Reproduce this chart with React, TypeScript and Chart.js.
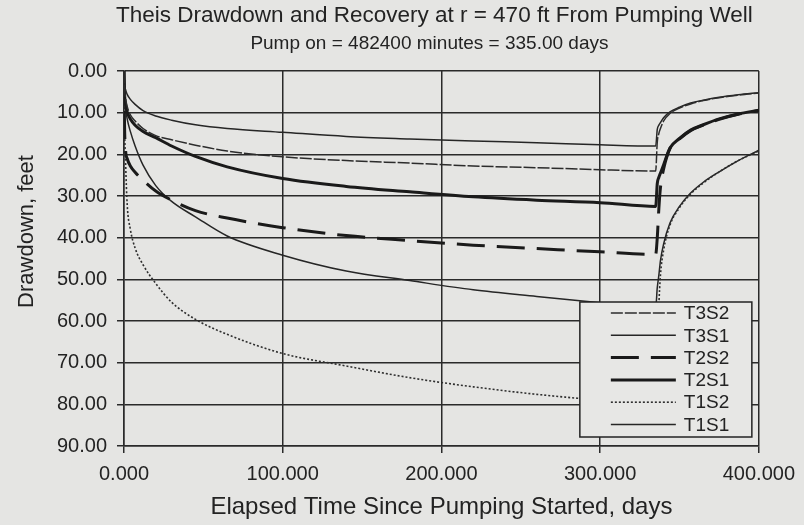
import React, { useEffect, useRef } from "react";
import { Chart, registerables } from "chart.js";

Chart.register(...registerables);

const TITLE = "Theis Drawdown and Recovery at r = 470 ft From Pumping Well";
const SUBTITLE = "Pump on = 482400 minutes = 335.00 days";
const X_TITLE = "Elapsed Time Since Pumping Started, days";
const Y_TITLE = "Drawdown, feet";

// elapsed time, days
const DAYS = [0, 0.3, 1, 2, 4, 7, 12, 20, 30, 45, 65, 100, 140, 180, 220, 260, 300, 335, 336, 337, 338, 340, 344, 350, 357, 365, 375, 387, 400];

// drawdown, feet
const T3S2 = [0, 4, 6.5, 8.5, 10.5, 12, 13.8, 15.5, 16.5, 17.8, 19.2, 20.6, 21.5, 22.1, 22.8, 23.2, 23.7, 24, 17, 15, 13.8, 12, 10.2, 8.9, 7.9, 7.1, 6.4, 5.8, 5.3];
const T3S1 = [0, 3, 4.5, 5.6, 6.8, 8, 9.5, 10.8, 11.8, 12.9, 13.8, 14.7, 15.7, 16.3, 16.8, 17.2, 17.7, 18, 14, 13, 12.4, 11.2, 9.8, 8.7, 7.7, 7, 6.3, 5.7, 5.2];
const T2S2 = [0, 12, 19, 21, 22.8, 24.3, 26.2, 28.8, 31, 33.5, 35.3, 37.6, 39.5, 40.7, 41.8, 42.6, 43.4, 44, 40, 33, 28, 23.5, 18.6, 16.3, 14.3, 13, 11.6, 10.4, 9.5];
const T2S1 = [0, 5, 8, 9.8, 11.5, 13, 14.5, 16, 18, 20.5, 23, 25.8, 27.7, 29, 30.2, 31, 31.6, 32.5, 27, 25.5, 24.5, 22.5, 18.5, 16.2, 14.2, 12.9, 11.5, 10.3, 9.4];
const T1S2 = [0, 12, 22, 32, 38, 42.5, 46.5, 51, 55.5, 59.6, 63.2, 67.8, 70.8, 73.6, 75.8, 77.6, 79, 80, 65, 56, 49, 43, 37, 32.8, 29.5, 26.9, 24.2, 21.5, 19.2];
const T1S1 = [0, 5, 9, 11.5, 14.5, 18, 22.6, 27.5, 31.3, 35, 39.6, 44.2, 48, 50.3, 52.5, 54.1, 55.6, 56.8, 52, 49, 45.5, 41.5, 36.5, 32.5, 29.3, 26.7, 24.2, 21.5, 19];

const SERIES_NAMES = ["T3S2", "T3S1", "T2S2", "T2S1", "T1S2", "T1S1"];
const SERIES_VALUES = [T3S2, T3S1, T2S2, T2S1, T1S2, T1S1];

const X_MIN = 0;
const X_MAX = 400;
const X_STEP = 100;
const Y_MIN = 0;
const Y_MAX = 90;
const Y_STEP = 10;

const FONT = "'Liberation Sans', Arial, sans-serif";
const BG = "#e5e5e3";
const INK = "#232323";

const STYLES = [
  { borderWidth: 1.5, borderDash: [12, 2], borderColor: "#2c2c2c" },
  { borderWidth: 1.5, borderDash: [], borderColor: "#262626" },
  { borderWidth: 3, borderDash: [28, 12], borderColor: "#1a1a1a" },
  { borderWidth: 3, borderDash: [], borderColor: "#1a1a1a" },
  { borderWidth: 1.6, borderDash: [2, 2], borderColor: "#2e2e2e" },
  { borderWidth: 1.5, borderDash: [], borderColor: "#262626" },
];

const bgPlugin = {
  id: "bgFill",
  beforeDraw(chart: any) {
    const ctx = chart.ctx;
    ctx.save();
    ctx.fillStyle = BG;
    ctx.fillRect(0, 0, chart.width, chart.height);
    ctx.restore();
  },
};

const textPlugin = {
  id: "textBlocks",
  afterDraw(chart: any) {
    const ctx = chart.ctx;
    const a = chart.chartArea;
    const cx = a.left + (a.right - a.left) / 2;
    ctx.save();
    ctx.fillStyle = INK;
    ctx.textAlign = "center";
    ctx.textBaseline = "alphabetic";
    ctx.font = `22.5px ${FONT}`;
    ctx.fillText(TITLE, cx - 7, 22);
    ctx.font = `19px ${FONT}`;
    ctx.fillText(SUBTITLE, cx - 12, 49);
    ctx.translate(27, a.top + (a.bottom - a.top) / 2 - 27);
    ctx.rotate(-Math.PI / 2);
    ctx.textBaseline = "middle";
    ctx.font = `22px ${FONT}`;
    ctx.fillText(Y_TITLE, 0, 0);
    ctx.restore();
  },
};

const legendPlugin = {
  id: "boxLegend",
  afterDatasetsDraw(chart: any) {
    const ctx = chart.ctx;
    const a = chart.chartArea;
    const w = 172;
    const h = 135;
    const x0 = a.right - 7 - w;
    const y0 = a.bottom - 9 - h;
    ctx.save();
    ctx.fillStyle = "#e7e7e5";
    ctx.fillRect(x0, y0, w, h);
    ctx.strokeStyle = INK;
    ctx.lineWidth = 1.5;
    ctx.strokeRect(x0, y0, w, h);
    ctx.font = `19px ${FONT}`;
    ctx.textBaseline = "middle";
    ctx.textAlign = "left";
    chart.data.datasets.forEach((ds: any, i: number) => {
      const y = y0 + 11 + i * 22.3;
      ctx.beginPath();
      ctx.setLineDash(ds.borderDash || []);
      ctx.lineWidth = ds.borderWidth;
      ctx.strokeStyle = ds.borderColor;
      ctx.moveTo(x0 + 31, y);
      ctx.lineTo(x0 + 96, y);
      ctx.stroke();
      ctx.setLineDash([]);
      ctx.fillStyle = INK;
      ctx.fillText(ds.label, x0 + 104, y + 1);
    });
    ctx.restore();
  },
};

export default function App() {
  const ref = useRef<HTMLCanvasElement | null>(null);

  useEffect(() => {
    document.body.style.margin = "0";
    const canvas = ref.current;
    if (!canvas) return;
    const datasets = SERIES_NAMES.map((name, i) => ({
      label: name,
      data: DAYS.map((d, j) => ({ x: d, y: SERIES_VALUES[i][j] })),
      ...STYLES[i],
      pointRadius: 0,
      fill: false,
      tension: 0,
      cubicInterpolationMode: "monotone" as const,
    }));
    const chart = new Chart(canvas, {
      type: "line",
      data: { datasets },
      plugins: [bgPlugin, textPlugin, legendPlugin],
      options: {
        animation: false,
        responsive: false,
        maintainAspectRatio: false,
        layout: { padding: { top: 71, right: 43, left: 0, bottom: 0 } },
        plugins: {
          legend: { display: false },
          title: { display: false },
          tooltip: { enabled: false },
        },
        scales: {
          x: {
            type: "linear",
            min: X_MIN,
            max: X_MAX,
            ticks: {
              stepSize: X_STEP,
              color: INK,
              font: { family: FONT, size: 20 },
              padding: 9,
              maxRotation: 0,
              callback: (v: any) => Number(v).toFixed(3),
            },
            grid: { color: "#2a2a2a", lineWidth: 1.5, tickLength: 7, tickColor: "#2a2a2a" },
            border: { color: "#2a2a2a", width: 1.5 },
            title: {
              display: true,
              text: X_TITLE,
              color: INK,
              font: { family: FONT, size: 24 },
              padding: { top: 0, bottom: 3 },
            },
            afterFit: (s: any) => {
              s.height = 79;
            },
          },
          y: {
            type: "linear",
            reverse: true,
            min: Y_MIN,
            max: Y_MAX,
            ticks: {
              stepSize: Y_STEP,
              color: INK,
              font: { family: FONT, size: 20 },
              padding: 10,
              callback: (v: any) => Number(v).toFixed(2),
            },
            grid: { color: "#2a2a2a", lineWidth: 1.5, tickLength: 7, tickColor: "#2a2a2a" },
            border: { color: "#2a2a2a", width: 1.5 },
            afterFit: (s: any) => {
              s.width = 124;
            },
          },
        },
      },
    });
    return () => chart.destroy();
  }, []);

  return (
    <div style={{ width: 804, height: 525 }}>
      <canvas ref={ref} width={804} height={525} style={{ width: 804, height: 525, display: "block" }} />
    </div>
  );
}
